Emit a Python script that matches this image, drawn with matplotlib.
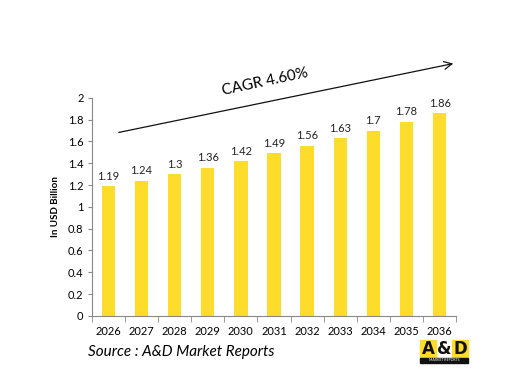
import matplotlib.pyplot as plt
from matplotlib.patches import Rectangle, FancyArrowPatch
import numpy as np

years = ['2026', '2027', '2028', '2029', '2030', '2031', '2032', '2033', '2034', '2035', '2036']
values = [1.19, 1.24, 1.3, 1.36, 1.42, 1.49, 1.56, 1.63, 1.7, 1.78, 1.86]
value_labels = ['1.19', '1.24', '1.3', '1.36', '1.42', '1.49', '1.56', '1.63', '1.7', '1.78', '1.86']

plt.rcParams['font.family'] = ['Lato', 'DejaVu Sans']

fig = plt.figure(figsize=(5.31, 3.82), dpi=100)
ax = fig.add_axes([0.173, 0.173, 0.686, 0.571])

x = np.arange(len(years))
ax.bar(x, values, width=0.4, color='#FDDC2C')
for xi, v, lab in zip(x, values, value_labels):
    ax.text(xi, v + 0.04, lab, ha='center', va='bottom', fontsize=8, color='#222222')

ax.set_xlim(-0.5, len(years) - 0.5)
ax.set_ylim(0, 2)
ax.set_yticks(np.arange(0, 2.01, 0.2))
ax.set_yticklabels(['0', '0.2', '0.4', '0.6', '0.8', '1', '1.2', '1.4', '1.6', '1.8', '2'])
ax.set_xticks(x)
ax.set_xticklabels(years)
ax.set_xticks(np.arange(-0.5, len(years)), minor=True)
ax.tick_params(axis='x', which='major', length=0, pad=7, labelsize=8)
ax.tick_params(axis='x', which='minor', length=4, color='#888888')
ax.tick_params(axis='y', length=3, color='#888888', labelsize=8, pad=3)
for s in ['top', 'right']:
    ax.spines[s].set_visible(False)
ax.spines['left'].set_color('#888888')
ax.spines['bottom'].set_color('#888888')
ax.set_ylabel('In USD Billion', fontsize=7, fontweight='bold', labelpad=6)

# CAGR arrow
fig.patches.append(FancyArrowPatch(
    (116 / 531, 1 - 133 / 382), (456 / 531, 1 - 63 / 382),
    transform=fig.transFigure, arrowstyle='->', mutation_scale=14, lw=0.9, color='#111111'))
fig.text(265 / 531, 1 - 82 / 382, 'CAGR 4.60%', rotation=12, ha='center', va='center', fontsize=11)

fig.text(88 / 531, 1 - 352 / 382, 'Source : A&D Market Reports', fontsize=11, style='italic',
         ha='left', va='center')

# logo
lx, ly, lw, lh = 420 / 531, 1 - 363 / 382, 48 / 531, 23 / 382
fig.patches.append(Rectangle((lx, ly + lh * 0.22), lw / 3, lh * 0.78, transform=fig.transFigure, color='#FDDC2C'))
fig.patches.append(Rectangle((lx + 2 * lw / 3, ly + lh * 0.22), lw / 3, lh * 0.78, transform=fig.transFigure, color='#FDDC2C'))
fig.patches.append(Rectangle((lx, ly), lw, lh * 0.22, transform=fig.transFigure, color='#111111'))
for i, ch in enumerate(['A', '&', 'D']):
    fig.text(lx + lw * (i + 0.5) / 3, ly + lh * 0.6, ch, ha='center', va='center', fontsize=12,
             color='#111111', family='DejaVu Sans', fontweight='bold')
fig.text(lx + lw / 2, ly + lh * 0.11, 'MARKET REPORTS', ha='center', va='center', fontsize=2.5, color='white')

fig.savefig('out.png', dpi=100)
